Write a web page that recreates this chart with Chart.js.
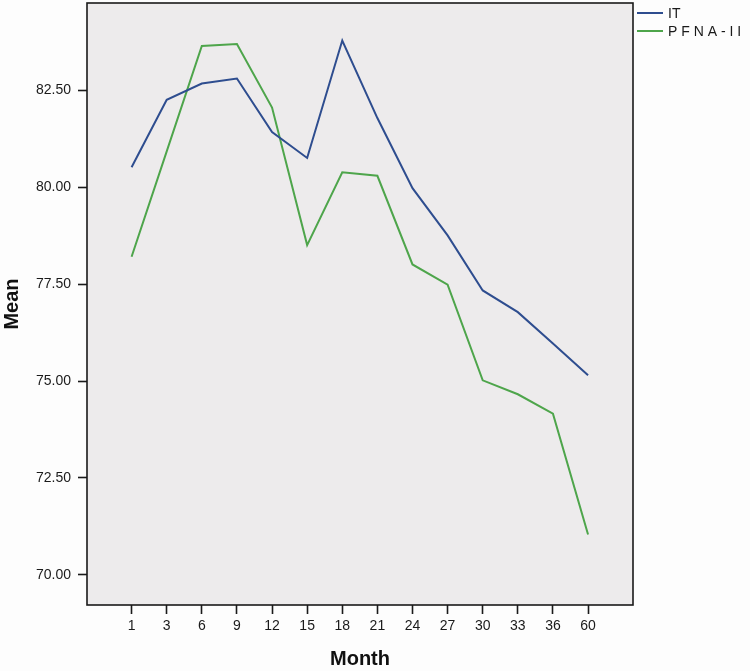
<!DOCTYPE html>
<html>
<head>
<meta charset="utf-8">
<script src="https://cdn.jsdelivr.net/npm/chart.js@4/dist/chart.umd.min.js"></script>
<style>
  html, body { margin: 0; padding: 0; background: #fdfdfd; }
  #wrap { width: 750px; height: 671px; }
</style>
</head>
<body>
<div id="wrap"><canvas id="chart" width="750" height="671"></canvas></div>
<script>
// Chart data
const months = ['1', '3', '6', '9', '12', '15', '18', '21', '24', '27', '30', '33', '36', '60'];
const itMeans = [80.52, 82.26, 82.68, 82.81, 81.43, 80.76, 83.79, 81.79, 79.98, 78.76, 77.34, 76.78, 75.97, 75.15];
const pfnaMeans = [78.21, 80.93, 83.65, 83.70, 82.06, 78.51, 80.39, 80.30, 78.01, 77.49, 75.02, 74.66, 74.16, 71.04];
const yTicks = [70, 72.5, 75, 77.5, 80, 82.5];

const FONT = "'Liberation Sans', Arial, sans-serif";

function toPoints(values) {
    return values.map((v, i) => ({ x: i, y: v }));
}

// Plot background, frame and the legend to the right of the plot
const framePlugin = {
    id: 'frame',
    beforeDraw(chart) {
        const { ctx, chartArea: a } = chart;
        ctx.save();
        ctx.fillStyle = '#fdfdfd';
        ctx.fillRect(0, 0, chart.width, chart.height);
        ctx.fillStyle = '#edebec';
        ctx.fillRect(a.left, a.top, a.right - a.left, a.bottom - a.top);
        ctx.restore();
    },
    afterDraw(chart) {
        const { ctx, chartArea: a } = chart;
        ctx.save();
        ctx.strokeStyle = '#1a1a1a';
        ctx.lineWidth = 1.6;
        ctx.strokeRect(a.left, a.top, a.right - a.left, a.bottom - a.top);

        // legend
        ctx.font = '14px ' + FONT;
        ctx.textBaseline = 'middle';
        chart.data.datasets.forEach((ds, i) => {
            const y = 13 + i * 18;
            ctx.strokeStyle = ds.borderColor;
            ctx.lineWidth = 2;
            ctx.beginPath();
            ctx.moveTo(a.right + 4, y);
            ctx.lineTo(a.right + 30, y);
            ctx.stroke();
            ctx.fillStyle = '#1a1a1a';
            ctx.fillText(ds.label, a.right + 35, y + 1);
        });
        ctx.restore();
    }
};

new Chart(document.getElementById('chart'), {
    type: 'line',
    data: {
        datasets: [{
            label: 'IT',
            data: toPoints(itMeans),
            borderColor: '#2e4d8f',
            borderWidth: 2,
            pointRadius: 0,
            tension: 0
        }, {
            label: 'P F N A - I I',
            data: toPoints(pfnaMeans),
            borderColor: '#4ea54b',
            borderWidth: 2,
            pointRadius: 0,
            tension: 0
        }]
    },
    options: {
        responsive: false,
        animation: false,
        layout: { padding: { top: 3, right: 117, left: 0, bottom: 0 } },
        plugins: {
            legend: { display: false },
            tooltip: { enabled: false }
        },
        scales: {
            x: {
                type: 'linear',
                min: -1.27,
                max: 14.28,
                afterBuildTicks: (scale) => {
                    scale.ticks = months.map((m, i) => ({ value: i }));
                },
                afterFit: (scale) => {
                    scale.height = 66;
                    scale.paddingLeft = 0;
                    scale.paddingRight = 0;
                },
                ticks: {
                    callback: (value) => months[value],
                    color: '#1a1a1a',
                    font: { family: FONT, size: 14 },
                    padding: 4,
                    maxRotation: 0,
                    autoSkip: false
                },
                grid: {
                    drawOnChartArea: false,
                    drawTicks: true,
                    tickLength: 9,
                    tickWidth: 1.6,
                    tickColor: '#1a1a1a'
                },
                border: { display: false },
                title: {
                    display: true,
                    text: 'Month',
                    color: '#111',
                    font: { family: FONT, size: 20, weight: 'bold' },
                    padding: 0
                }
            },
            y: {
                min: 69.22,
                max: 84.76,
                afterBuildTicks: (scale) => {
                    scale.ticks = yTicks.map(v => ({ value: v }));
                },
                afterFit: (scale) => {
                    scale.width = 87;
                    scale.paddingTop = 0;
                    scale.paddingBottom = 0;
                },
                ticks: {
                    callback: (value) => value.toFixed(2),
                    color: '#1a1a1a',
                    font: { family: FONT, size: 14 },
                    padding: 7
                },
                grid: {
                    drawOnChartArea: false,
                    drawTicks: true,
                    tickLength: 9,
                    tickWidth: 1.6,
                    tickColor: '#1a1a1a'
                },
                border: { display: false },
                title: {
                    display: true,
                    text: 'Mean',
                    color: '#111',
                    font: { family: FONT, size: 20, weight: 'bold' },
                    padding: 0
                }
            }
        }
    },
    plugins: [framePlugin]
});
</script>
</body>
</html>
